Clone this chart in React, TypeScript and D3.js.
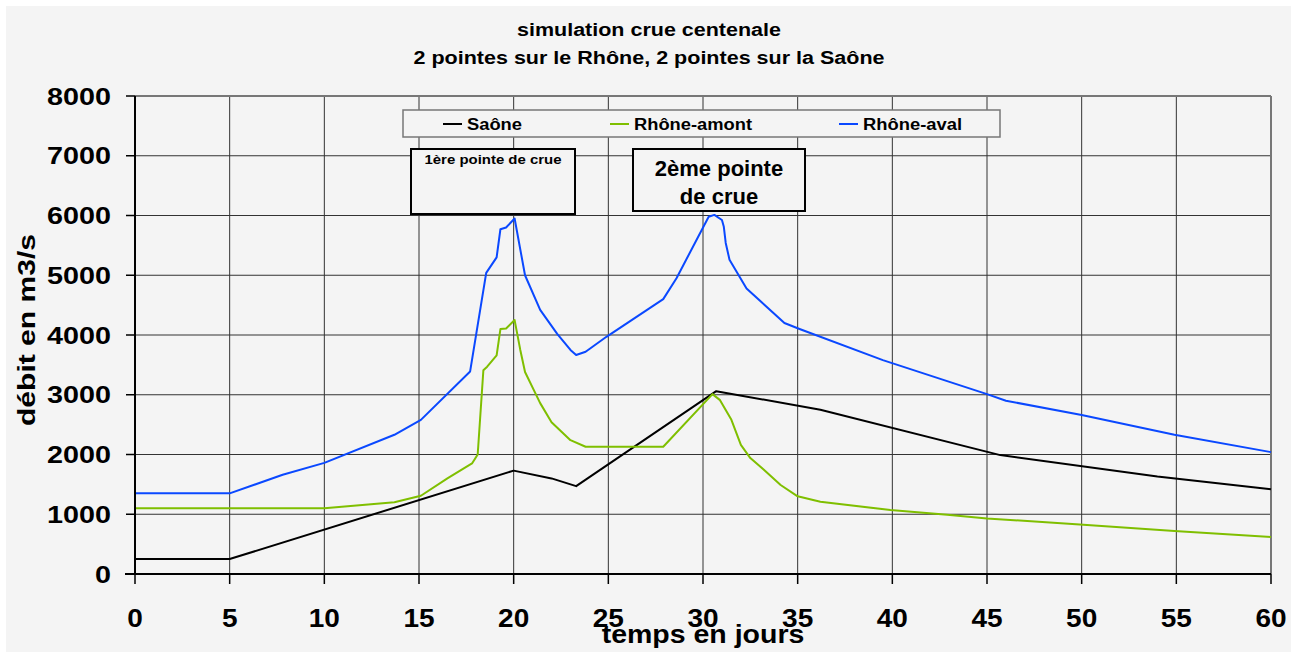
import React from 'react';
import * as d3 from 'd3';

// Saône
const saoneDays = [0, 5, 20, 22, 23.3, 30.7, 36.2, 45.7, 54, 60];
const saoneFlow = [250, 250, 1730, 1600, 1470, 3060, 2750, 1990, 1630, 1420];

// Rhône-amont
const amontDays = [0, 10, 13.7, 15.1, 16.5, 17.8, 18.1, 18.4, 18.6, 19.1, 19.3, 19.6, 20.05, 20.35, 20.6, 21.4, 22, 23, 23.8, 27.9, 30.5, 30.9, 31.5, 32, 32.5, 33.2, 34.1, 35, 36.2, 39.9, 42.9, 45, 49.9, 54.9, 60];
const amontFlow = [1100, 1100, 1200, 1310, 1600, 1850, 2000, 3410, 3470, 3660, 4100, 4110, 4250, 3750, 3380, 2860, 2540, 2240, 2130, 2130, 3010, 2910, 2580, 2160, 1940, 1750, 1490, 1300, 1210, 1070, 990, 930, 830, 720, 620];

// Rhône-aval
const avalDays = [0, 5, 7.8, 10, 13.7, 15.1, 17.7, 18.55, 19.1, 19.3, 19.6, 20.05, 20.6, 21.4, 22.3, 23, 23.3, 23.8, 24.9, 27.9, 28.6, 30.3, 30.6, 31, 31.1, 31.2, 31.4, 32.3, 34.3, 35.1, 39.5, 45, 46, 50, 54.9, 60];
const avalFlow = [1350, 1350, 1660, 1860, 2330, 2580, 3390, 5040, 5300, 5770, 5800, 5950, 5000, 4420, 4020, 3750, 3665, 3720, 3970, 4600, 4950, 5980, 6010, 5925, 5810, 5540, 5260, 4780, 4200, 4100, 3580, 3010, 2900, 2660, 2330, 2040];

const xTicks = [0, 5, 10, 15, 20, 25, 30, 35, 40, 45, 50, 55, 60];
const yTicks = [0, 1000, 2000, 3000, 4000, 5000, 6000, 7000, 8000];

const seriesNames = ['Saône', 'Rhône-amont', 'Rhône-aval'];
const seriesColors = ['#000000', '#7fbf00', '#0a48ff'];

const FONT = 'Liberation Sans, Arial, sans-serif';
const BG = '#f4f4f4';

export default function App() {
  const W = 1291;
  const H = 652;
  const left = 135, right = 1271, top = 96, bottom = 574;

  const x = d3.scaleLinear().domain([0, 60]).range([left, right]);
  const y = d3.scaleLinear().domain([0, 8000]).range([bottom, top]);

  const line = d3.line<[number, number]>()
    .x(d => x(d[0]))
    .y(d => y(d[1]));

  const series = [
    d3.zip(saoneDays, saoneFlow),
    d3.zip(amontDays, amontFlow),
    d3.zip(avalDays, avalFlow),
  ] as [number, number][][];

  // legend placement / text widths as seen in the picture
  const legendX = [443, 610, 839];
  const legendLen = [55, 118, 99];

  return (
    <svg width={W} height={H} style={{ position: 'absolute', left: 0, top: 0 }} fontFamily={FONT}>
      <rect x={0} y={0} width={W} height={H} fill="#ffffff" />
      <rect x={6} y={6} width={W - 6} height={H - 6} fill={BG} />

      {/* title */}
      <text x={649} y={36} textAnchor="middle" fontSize={18} fontWeight="bold" textLength={264} lengthAdjust="spacingAndGlyphs">simulation crue centenale</text>
      <text x={649} y={64} textAnchor="middle" fontSize={18} fontWeight="bold" textLength={471} lengthAdjust="spacingAndGlyphs">2 pointes sur le Rhône, 2 pointes sur la Saône</text>

      {/* grid */}
      {xTicks.filter(t => t > 0 && t < 60).map(t => (
        <line key={'gx' + t} x1={x(t)} x2={x(t)} y1={top} y2={bottom} stroke="#333" strokeWidth={1} />
      ))}
      {yTicks.filter(t => t > 0 && t < 8000).map(t => (
        <line key={'gy' + t} x1={left} x2={right} y1={y(t)} y2={y(t)} stroke="#333" strokeWidth={1} />
      ))}
      <line x1={left} x2={right} y1={top} y2={top} stroke="#777" strokeWidth={2} />
      <line x1={right} x2={right} y1={top} y2={bottom} stroke="#777" strokeWidth={2} />

      {/* series */}
      {series.map((s, i) => (
        <path key={seriesNames[i]} d={line(s) || ''} fill="none" stroke={seriesColors[i]} strokeWidth={2} strokeLinejoin="round" />
      ))}

      {/* axes */}
      <line x1={left} x2={left} y1={top} y2={bottom} stroke="#000" strokeWidth={2} />
      <line x1={left - 10} x2={right} y1={bottom} y2={bottom} stroke="#000" strokeWidth={2} />
      {yTicks.map(t => (
        <g key={'yt' + t}>
          <line x1={left - 9} x2={left} y1={y(t)} y2={y(t)} stroke="#000" strokeWidth={1.5} />
          <text x={0} y={0} transform={`translate(111,${y(t) + 8.5}) scale(1.25,1)`} textAnchor="end" fontSize={23} fontWeight="bold">{t}</text>
        </g>
      ))}
      {xTicks.map(t => (
        <g key={'xt' + t}>
          <line x1={x(t)} x2={x(t)} y1={bottom} y2={bottom + 10} stroke="#000" strokeWidth={1.5} />
          <text x={0} y={0} transform={`translate(${x(t)},${627}) scale(1.12,1)`} textAnchor="middle" fontSize={25} fontWeight="bold">{t}</text>
        </g>
      ))}
      <text x={0} y={0} transform={`translate(703,643) scale(1.14,1)`} textAnchor="middle" fontSize={25} fontWeight="bold">temps en jours</text>
      <text x={0} y={0} transform={`translate(35,330) rotate(-90)`} textAnchor="middle" fontSize={23} fontWeight="bold" textLength={192} lengthAdjust="spacingAndGlyphs">débit en m3/s</text>

      {/* legend */}
      <rect x={403} y={110} width={597} height={27} fill={BG} stroke="#777" strokeWidth={1.5} />
      {seriesNames.map((n, i) => (
        <g key={'lg' + n}>
          <line x1={legendX[i]} x2={legendX[i] + 19} y1={124} y2={124} stroke={seriesColors[i]} strokeWidth={2} />
          <text x={legendX[i] + 24} y={130} fontSize={16} fontWeight="bold" textLength={legendLen[i]} lengthAdjust="spacingAndGlyphs">{n}</text>
        </g>
      ))}

      {/* annotations */}
      <rect x={411} y={149} width={164} height={65} fill={BG} stroke="#000" strokeWidth={2} />
      <text x={493} y={164} textAnchor="middle" fontSize={12} fontWeight="bold" textLength={137} lengthAdjust="spacingAndGlyphs">1ère pointe de crue</text>
      <rect x={633} y={149} width={172} height={62} fill={BG} stroke="#000" strokeWidth={2} />
      <text x={719} y={176} textAnchor="middle" fontSize={22} fontWeight="bold">2ème pointe</text>
      <text x={719} y={204} textAnchor="middle" fontSize={22} fontWeight="bold">de crue</text>
    </svg>
  );
}
